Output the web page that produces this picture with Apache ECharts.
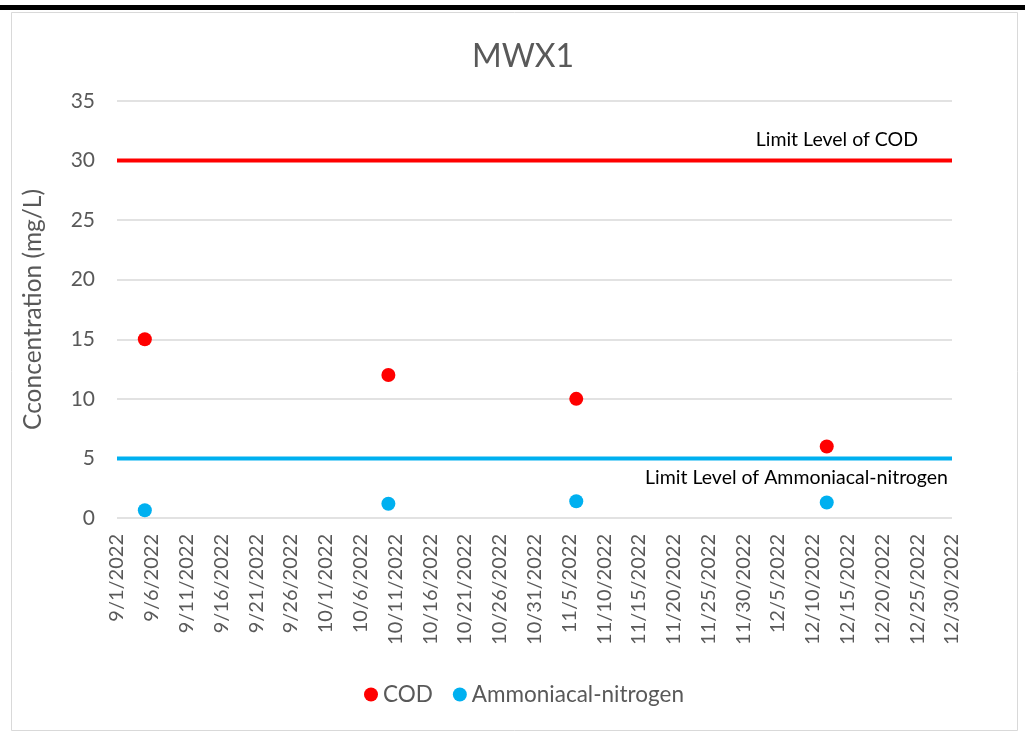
<!DOCTYPE html>
<html>
<head>
<meta charset="utf-8">
<script src="https://cdn.jsdelivr.net/npm/echarts@6/dist/echarts.min.js"></script>
<style>
  html, body { margin: 0; padding: 0; background: #fff; }
  #chart { width: 1025px; height: 736px; }
</style>
</head>
<body>
<div id="chart"></div>
<script>
// sample dates and measured values
var sampleDates = ['9/5/2022', '10/10/2022', '11/6/2022', '12/12/2022'];
var codValues = [15, 12, 10, 6];
var nh3Values = [0.65, 1.2, 1.4, 1.3];

// limit levels, drawn over the whole axis range
var axisDates = ['9/1/2022', '12/30/2022'];
var codLimit = 30;
var nh3Limit = 5;

// excel style date serial (days since 12/30/1899)
var DAY = 86400000;
var BASE = Date.UTC(1899, 11, 30);
function toSerial(s) {
  var p = s.split('/');
  return Math.round((Date.UTC(+p[2], p[0] - 1, +p[1]) - BASE) / DAY);
}
function fromSerial(v) {
  var d = new Date(BASE + v * DAY);
  return (d.getUTCMonth() + 1) + '/' + d.getUTCDate() + '/' + d.getUTCFullYear();
}

function pairs(dates, vals) {
  var res = [];
  for (var i = 0; i < dates.length; i++) {
    res.push([toSerial(dates[i]), vals[i]]);
  }
  return res;
}
function limitLine(level, labelText, pos, offset) {
  var res = [];
  for (var i = 0; i < axisDates.length; i++) {
    var item = { value: [toSerial(axisDates[i]), level] };
    if (i == axisDates.length - 1) {
      item.label = {
        show: true,
        formatter: labelText,
        position: pos,
        align: 'right',
        verticalAlign: 'middle',
        distance: 0,
        offset: offset,
        color: '#000',
        fontSize: 19.5,
        fontFamily: 'Lato'
      };
    }
    res.push(item);
  }
  return res;
}

var xMin = toSerial(axisDates[0]);
var xMax = toSerial(axisDates[1]);

var myChart = echarts.init(document.getElementById('chart'));

var option = {
  animation: false,
  backgroundColor: '#fff',
  textStyle: { fontFamily: 'Lato' },
  graphic: [
    { type: 'rect', shape: { x: 0, y: 5, width: 1025, height: 5 }, style: { fill: '#000' } },
    { type: 'rect', shape: { x: 11.5, y: 12.5, width: 1006, height: 718 }, style: { fill: 'none', stroke: '#d9d9d9', lineWidth: 1 } }
  ],
  title: {
    text: 'MWX1',
    left: 467,
    top: 36,
    textStyle: { color: '#595959', fontSize: 32, fontWeight: 'normal', fontFamily: 'Lato' }
  },
  legend: {
    data: ['COD', 'Ammoniacal-nitrogen'],
    top: 678,
    left: 359,
    icon: 'circle',
    itemWidth: 14,
    itemHeight: 14,
    itemGap: 20,
    textStyle: { color: '#595959', fontSize: 22.5, fontFamily: 'Lato' }
  },
  grid: { left: 117, right: 73, top: 101, bottom: 218 },
  xAxis: {
    type: 'value',
    min: xMin,
    max: xMax,
    interval: 5,
    axisLine: { show: false },
    axisTick: { show: false },
    splitLine: { show: false },
    axisLabel: {
      rotate: 90,
      margin: 16,
      color: '#595959',
      fontSize: 20,
      fontFamily: 'Lato',
      formatter: fromSerial
    }
  },
  yAxis: {
    type: 'value',
    min: 0,
    max: 35,
    interval: 5,
    name: 'Cconcentration (mg/L)',
    nameLocation: 'middle',
    nameGap: 71,
    nameTextStyle: { color: '#595959', fontSize: 24.5, fontFamily: 'Lato' },
    axisLine: { show: false },
    axisTick: { show: false },
    splitLine: { lineStyle: { color: '#d9d9d9', width: 1.5 } },
    axisLabel: { margin: 22, color: '#595959', fontSize: 21, fontFamily: 'Lato' }
  },
  series: [
    {
      name: 'Limit Level of COD',
      type: 'line',
      clip: false,
      symbolSize: 0,
      showSymbol: true,
      lineStyle: { color: '#ff0000', width: 4 },
      itemStyle: { color: '#ff0000' },
      data: limitLine(codLimit, 'Limit Level of COD', 'top', [-34, -21])
    },
    {
      name: 'Limit Level of Ammoniacal-nitrogen',
      type: 'line',
      clip: false,
      symbolSize: 0,
      showSymbol: true,
      lineStyle: { color: '#00b0f0', width: 4 },
      itemStyle: { color: '#00b0f0' },
      data: limitLine(nh3Limit, 'Limit Level of Ammoniacal-nitrogen', 'bottom', [-4, 19])
    },
    {
      name: 'COD',
      type: 'scatter',
      symbolSize: 14,
      itemStyle: { color: '#ff0000', opacity: 1 },
      data: pairs(sampleDates, codValues)
    },
    {
      name: 'Ammoniacal-nitrogen',
      type: 'scatter',
      symbolSize: 14,
      itemStyle: { color: '#00b0f0', opacity: 1 },
      data: pairs(sampleDates, nh3Values)
    }
  ]
};

myChart.setOption(option);
</script>
</body>
</html>
